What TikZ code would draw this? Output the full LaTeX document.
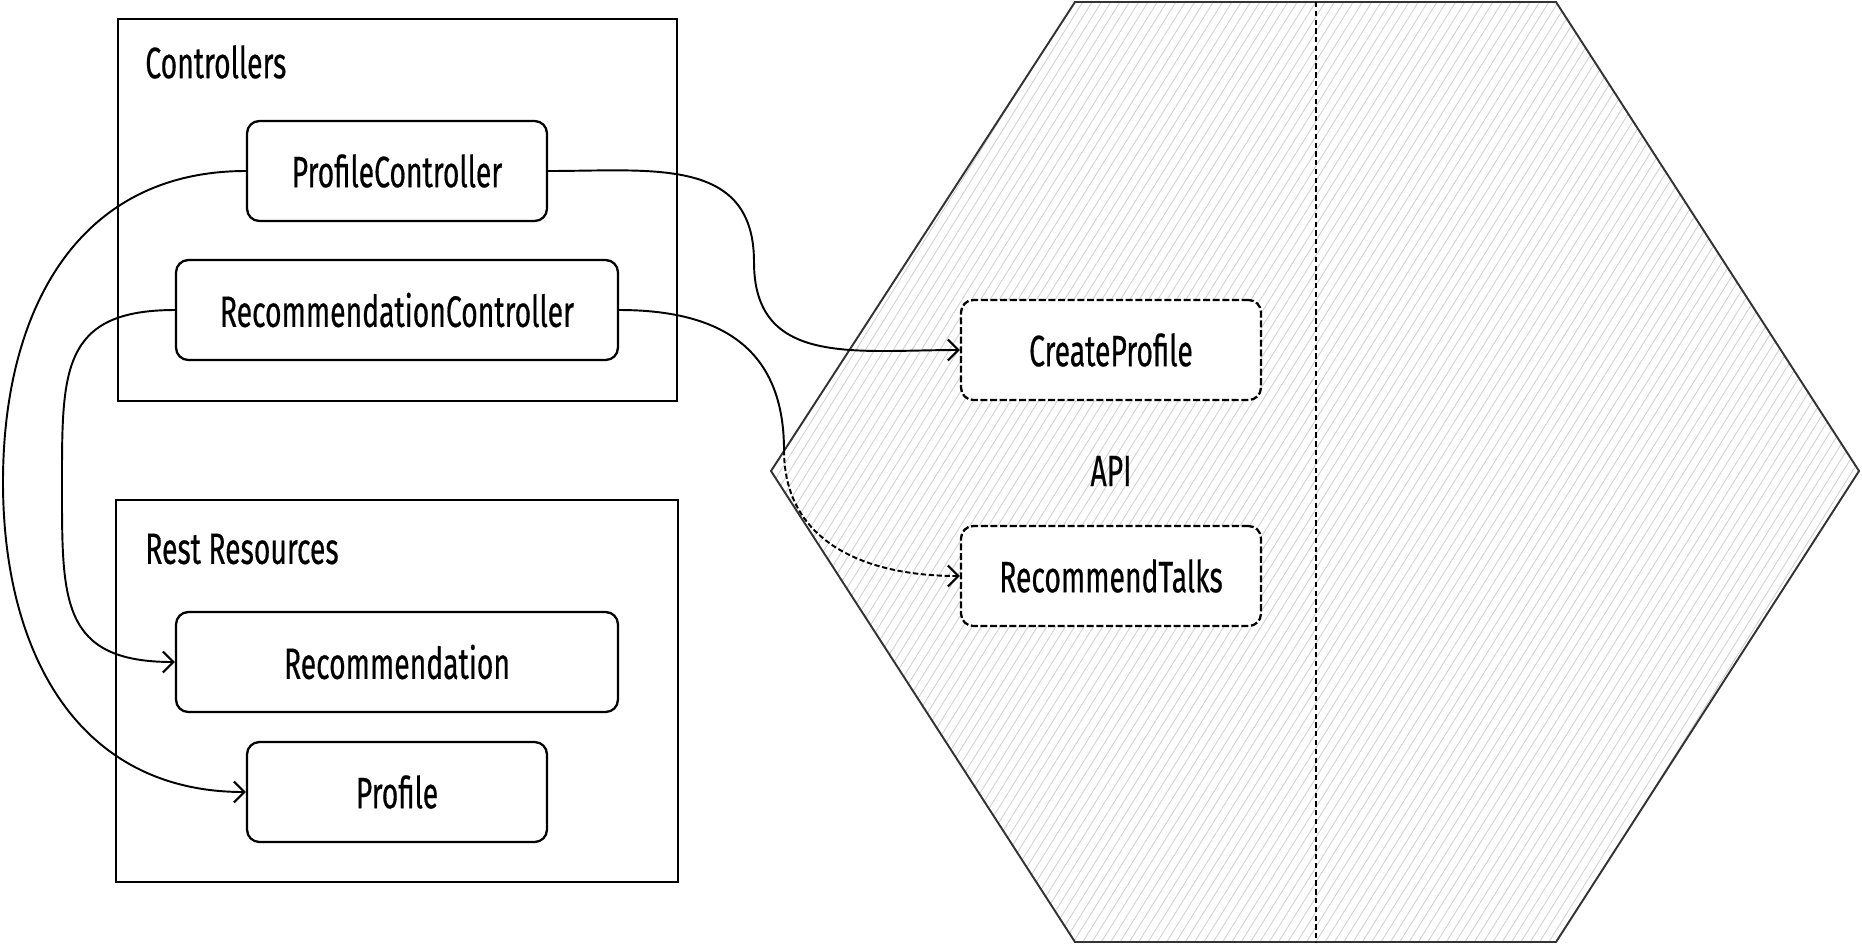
\documentclass[tikz,border=0pt]{standalone}
\usepackage{fontspec}
\setmainfont{Fira Sans}[FakeStretch=0.645,FakeBold=0.4]
\usetikzlibrary{arrows.meta,patterns.meta}

\begin{document}
\begin{tikzpicture}[x=0.02cm,y=-0.02cm,
    box/.style={draw,fill=white,rounded corners=7pt,line width=1.3pt,minimum width=6cm,minimum height=2cm},
    widebox/.style={box,minimum width=8.84cm},
    dashbox/.style={box,dash pattern=on 4pt off 1.5pt},
    frame/.style={draw,line width=1.3pt},
    conn/.style={line width=1.1pt,-{Straight Barb[length=6pt,width=12pt,line width=1.2pt]}},
    font=\fontsize{25}{29}\selectfont]
    \useasboundingbox (0,0) rectangle (1862,944);

    % hexagon
    \draw[draw=black!80,line width=1.1pt,pattern={Lines[angle=58,distance=4.5pt,line width=0.5pt]},pattern color=black!18]
        (1075,2) -- (1556,2) -- (1859,471) -- (1556,942) -- (1075,942) -- (771,471) -- cycle;
    \coordinate (HT) at (1316,2);
    \coordinate (HB) at (1316,942);
    \draw[dash pattern=on 3pt off 2pt,line width=0.7pt] (HT) -- (HB);

    % containers
    \draw[frame] (118,19) rectangle (677,401);
    \node(LC) at (145,62)[anchor=west,inner sep=0pt]{Controllers};
    \draw[frame] (116,500) rectangle (678,882);
    \node(LR) at (145,549)[anchor=west,inner sep=0pt]{Rest Resources};

    \node(PC) at (397,171)[box]{ProfileController};
    \node(RC) at (397,310)[widebox]{RecommendationController};
    \node(RE) at (397,662)[widebox]{Recommendation};
    \node(PR) at (397,792)[box]{Profile};

    \node(CP) at (1111,350)[dashbox]{CreateProfile};
    \node(API) at (1111,471){API};
    \node(RT) at (1111,576)[dashbox]{RecommendTalks};

    \coordinate (K1) at (3,482);
    \coordinate (K2) at (62,486);
    \coordinate (K3) at (754,262);
    \coordinate (K4) at (784,450);

    \draw [conn] (PC.west) to [out=180,in=90,looseness=1.1] (K1) to [out=-90,in=180,looseness=1.1] (PR.west);
    \draw [conn] (RC.west) to [out=180,in=90,looseness=1.4] (K2) to [out=-90,in=180,looseness=1.4] (RE.west);
    \draw [conn] (PC.east) to [out=0,in=90,looseness=1.2] (K3) to [out=-90,in=180,looseness=1.2] (CP.west);
    \draw [line width=1.1pt] (RC.east) to [out=0,in=90,looseness=1.2] (K4);
    \draw [conn,dash pattern=on 3pt off 1.5pt] (K4) to [out=-90,in=180,looseness=1.1] (RT.west);
\end{tikzpicture}
\end{document}
